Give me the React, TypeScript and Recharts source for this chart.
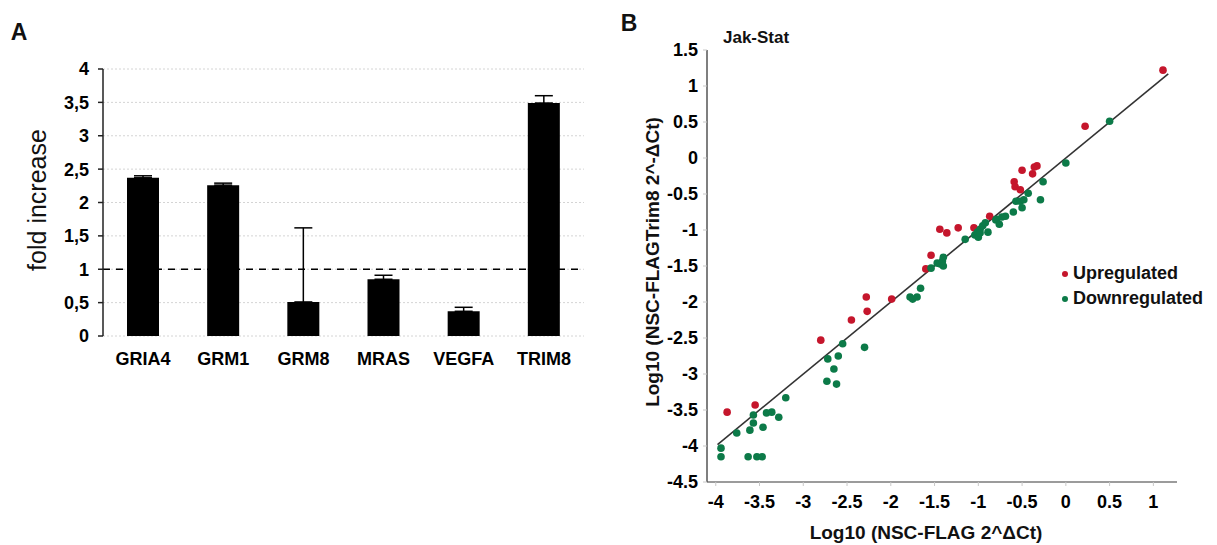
import React from 'react';
import {
  BarChart, Bar, XAxis, YAxis, CartesianGrid, ReferenceLine, ErrorBar,
  ScatterChart, Scatter,
} from 'recharts';

// panel A
const genes = ['GRIA4', 'GRM1', 'GRM8', 'MRAS', 'VEGFA', 'TRIM8'];
const foldIncrease = [2.37, 2.26, 0.51, 0.85, 0.37, 3.49];
const foldError = [0.03, 0.03, 1.11, 0.06, 0.06, 0.11];
const foldTicks = [0, 0.5, 1, 1.5, 2, 2.5, 3, 3.5, 4];
const geneEdges = [0, 1, 2, 3, 4, 5, 6];

// panel B (log10 values)
const upregulated: [number, number][] = [
  [-3.87, -3.53], [-3.55, -3.43], [-2.80, -2.53], [-2.45, -2.25], [-2.28, -1.93],
  [-2.27, -2.13], [-1.99, -1.96], [-1.60, -1.54], [-1.54, -1.35], [-1.44, -0.99],
  [-1.36, -1.04], [-1.23, -0.97], [-1.05, -0.97], [-0.87, -0.81], [-0.59, -0.33],
  [-0.58, -0.40], [-0.52, -0.44], [-0.50, -0.17], [-0.38, -0.22], [-0.36, -0.125],
  [-0.33, -0.11], [0.22, 0.44], [1.11, 1.22],
];
const downregulated: [number, number][] = [
  [-3.94, -4.03], [-3.94, -4.15], [-3.76, -3.82], [-3.63, -4.15], [-3.61, -3.78],
  [-3.57, -3.68], [-3.57, -3.57], [-3.53, -4.15], [-3.47, -4.15], [-3.46, -3.74],
  [-3.42, -3.54], [-3.36, -3.53], [-3.28, -3.60], [-3.20, -3.33], [-2.72, -2.79],
  [-2.73, -3.10], [-2.65, -2.93], [-2.60, -2.75], [-2.62, -3.14], [-2.55, -2.58],
  [-2.30, -2.63], [-1.78, -1.93], [-1.75, -1.96], [-1.70, -1.93], [-1.66, -1.81],
  [-1.54, -1.53], [-1.47, -1.46], [-1.44, -1.47], [-1.41, -1.43], [-1.40, -1.38],
  [-1.40, -1.50], [-1.15, -1.13], [-1.04, -1.07], [-1.01, -1.03], [-1.00, -1.10],
  [-0.98, -0.99], [-0.98, -1.04], [-0.95, -0.94], [-0.92, -0.90], [-0.89, -1.03],
  [-0.80, -0.86], [-0.79, -0.85], [-0.76, -0.92], [-0.73, -0.82], [-0.69, -0.81],
  [-0.60, -0.75], [-0.57, -0.60], [-0.52, -0.60], [-0.50, -0.69], [-0.48, -0.58],
  [-0.43, -0.49], [-0.29, -0.58], [-0.26, -0.33], [0.00, -0.07], [0.50, 0.51],
];
const logTicksX = [-4, -3.5, -3, -2.5, -2, -1.5, -1, -0.5, 0, 0.5, 1];
const logTicksY = [-4.5, -4, -3.5, -3, -2.5, -2, -1.5, -1, -0.5, 0, 0.5, 1, 1.5];
const identityLine = [-3.98, 1.17];
const legendNames = ['Upregulated', 'Downregulated'];

const FONT = '"Liberation Sans", Arial, Helvetica, sans-serif';
const RED = '#c5162c';
const GREEN = '#0c7a48';

const barData = genes.map((g, i) => ({ gene: g, fold: foldIncrease[i], err: [0, foldError[i]] }));
const upData = upregulated.map(([x, y]) => ({ x, y }));
const downData = downregulated.map(([x, y]) => ({ x, y }));

const tickStyle = { fontFamily: FONT, fontSize: 18, fontWeight: 700, fill: '#000' };

const dot = (color: string) => (props: any) => (
  <circle cx={props.cx} cy={props.cy} r={3.8} fill={color} />
);

const Label = ({ x, y, size, bold = true, rotate = false, children }: any) => (
  <div
    style={{
      position: 'absolute', left: x, top: y, whiteSpace: 'nowrap', lineHeight: 1,
      fontFamily: FONT, fontSize: size, fontWeight: bold ? 700 : 400, color: '#111',
      transform: `translate(-50%, -50%)${rotate ? ' rotate(-90deg)' : ''}`,
    }}
  >
    {children}
  </div>
);

export default function App() {
  return (
    <div style={{ position: 'absolute', left: 0, top: 0, width: 1217, height: 545, background: '#fff' }}>
      <div style={{ position: 'absolute', left: 0, top: 0 }}>
        <BarChart width={600} height={400} data={barData} margin={{ top: 69, right: 16, bottom: 24, left: 53 }}>
          <CartesianGrid vertical={false} stroke="#d4d4d4" strokeDasharray="2 2" />
          <XAxis
            xAxisId="edges" type="number" domain={[0, 6]} ticks={geneEdges} height={0}
            tickFormatter={() => ''} tickSize={5} allowDataOverflow
            axisLine={{ stroke: '#222', strokeWidth: 1.5 }} tickLine={{ stroke: '#222', strokeWidth: 1.5 }}
          />
          <XAxis
            dataKey="gene" height={40} axisLine={false} tickLine={false} tickSize={0} tickMargin={16}
            tick={tickStyle} interval={0}
          />
          <YAxis
            domain={[0, 4]} ticks={foldTicks} width={50} tickSize={5} tickMargin={9}
            tickFormatter={(v: number) => String(v).replace('.', ',')}
            tick={tickStyle} axisLine={{ stroke: '#222', strokeWidth: 1.5 }}
            tickLine={{ stroke: '#222', strokeWidth: 1.5 }} allowDataOverflow
          />
          <ReferenceLine y={1} stroke="#000" strokeWidth={1.5} strokeDasharray="7 6" />
          <Bar dataKey="fold" fill="#000" barSize={32} isAnimationActive={false}>
            <ErrorBar dataKey="err" direction="y" width={9} stroke="#000" strokeWidth={1.5} />
          </Bar>
        </BarChart>
      </div>

      <div style={{ position: 'absolute', left: 600, top: 0 }}>
        <ScatterChart width={617} height={545} margin={{ top: 50, right: 40, bottom: 33, left: 57 }}>
          <XAxis
            type="number" dataKey="x" domain={[-4.1, 1.27]} ticks={logTicksX} height={30}
            tickSize={4} tickMargin={9} tick={tickStyle} allowDataOverflow interval={0}
            axisLine={{ stroke: '#7a7a7a', strokeWidth: 1.5 }} tickLine={{ stroke: '#c8c8c8' }}
          />
          <YAxis
            type="number" dataKey="y" domain={[-4.5, 1.5]} ticks={logTicksY} width={50}
            tickSize={4} tickMargin={5} tick={tickStyle} allowDataOverflow interval={0}
            axisLine={{ stroke: '#555', strokeWidth: 1.5 }} tickLine={{ stroke: '#c8c8c8' }}
          />
          <ReferenceLine
            segment={[{ x: identityLine[0], y: identityLine[0] }, { x: identityLine[1], y: identityLine[1] }]}
            stroke="#333" strokeWidth={1.6}
          />
          <Scatter name={legendNames[0]} data={upData} fill={RED} shape={dot(RED)} isAnimationActive={false} />
          <Scatter name={legendNames[1]} data={downData} fill={GREEN} shape={dot(GREEN)} isAnimationActive={false} />
        </ScatterChart>
      </div>

      <div style={{ position: 'absolute', left: 1062, top: 261, fontFamily: FONT, fontWeight: 700, fontSize: 18, color: '#111' }}>
        {legendNames.map((name, i) => (
          <div key={name} style={{ display: 'flex', alignItems: 'center', height: 25 }}>
            <span style={{ width: 6, height: 6, borderRadius: 3, background: i === 0 ? RED : GREEN, marginRight: 5 }} />
            <span>{name}</span>
          </div>
        ))}
      </div>

      <Label x={19} y={32} size={23}>A</Label>
      <Label x={37} y={200} size={25} bold={false} rotate>fold increase</Label>
      <Label x={629} y={23} size={23}>B</Label>
      <div style={{ position: 'absolute', left: 723, top: 29, fontFamily: FONT, fontSize: 17, fontWeight: 700, lineHeight: 1, color: '#111' }}>
        Jak-Stat
      </div>
      <Label x={652} y={262} size={19} rotate>Log10 (NSC-FLAGTrim8 2^-ΔCt)</Label>
      <Label x={926} y={532} size={19}>Log10 (NSC-FLAG 2^ΔCt)</Label>
    </div>
  );
}
